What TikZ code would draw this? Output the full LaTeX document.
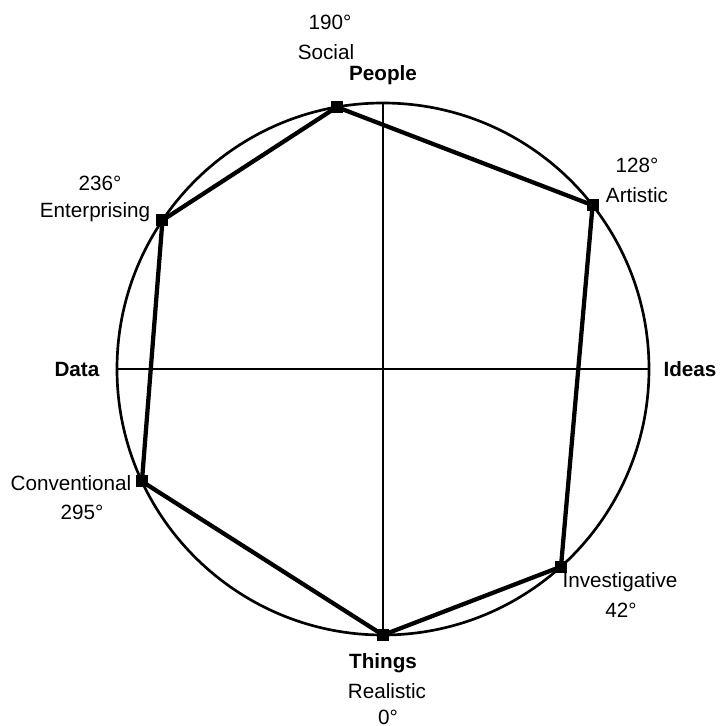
\documentclass[tikz,border=0pt]{standalone}
\usepackage{fontspec}
\setmainfont{Liberation Sans}

\begin{document}
\begin{tikzpicture}[x=0.75pt,y=0.75pt,
    every node/.style={font=\fontsize{15.5}{18}\selectfont},
    corner/.style={fill=black,inner sep=0pt,minimum size=9pt},
    axis/.style={line width=2pt},
    hexagon/.style={line width=3.2pt}]
			\useasboundingbox (-383,-357) rectangle (336,369);
			% circle and the two axes
			\draw[axis] (0,0) circle (266);
			\coordinate (north) at (90:266);
			\coordinate (south) at (-90:266);
			\coordinate (west) at (180:266);
			\coordinate (east) at (0:266);
			\draw[axis] (north) -- (south); \draw[axis] (west) -- (east);
			% the six types
			\node[corner] (real) at (-90:266) {};
			\node[corner] (inv) at (-48:266) {};
			\node[corner] (art) at (38:266) {};
			\node[corner] (soc) at (100:266) {};
			\node[corner] (ent) at (146:266) {};
			\node[corner] (conv) at (205:266) {};
			\draw[hexagon] (real.center) -- (inv.center) -- (art.center) -- (soc.center) -- (ent.center) -- (conv.center) -- cycle;
			% labels
			\node (people) at (0,294) {\textbf{People}};
			\node (things) at (0,-294) {\textbf{Things}};
			\node (data) at (-306,0) {\textbf{Data}};
			\node (ideas) at (307,0) {\textbf{Ideas}};
			\node (soclbl) at (-57,317) {Social};
			\node (socdeg) at (-53,347) {190°};
			\node (entlbl) at (-288,157) {Enterprising};
			\node (entdeg) at (-283,186) {236°};
			\node (artlbl) at (254,174) {Artistic};
			\node (artdeg) at (254,204) {128°};
			\node (convlbl) at (-312,-114) {Conventional};
			\node (convdeg) at (-301,-143) {295°};
			\node (invlbl) at (237,-213) {Investigative};
			\node (invdeg) at (238,-241) {42°};
			\node (reallbl) at (4,-322) {Realistic};
			\node (realdeg) at (5,-348) {0°};
		\end{tikzpicture}
\end{document}
